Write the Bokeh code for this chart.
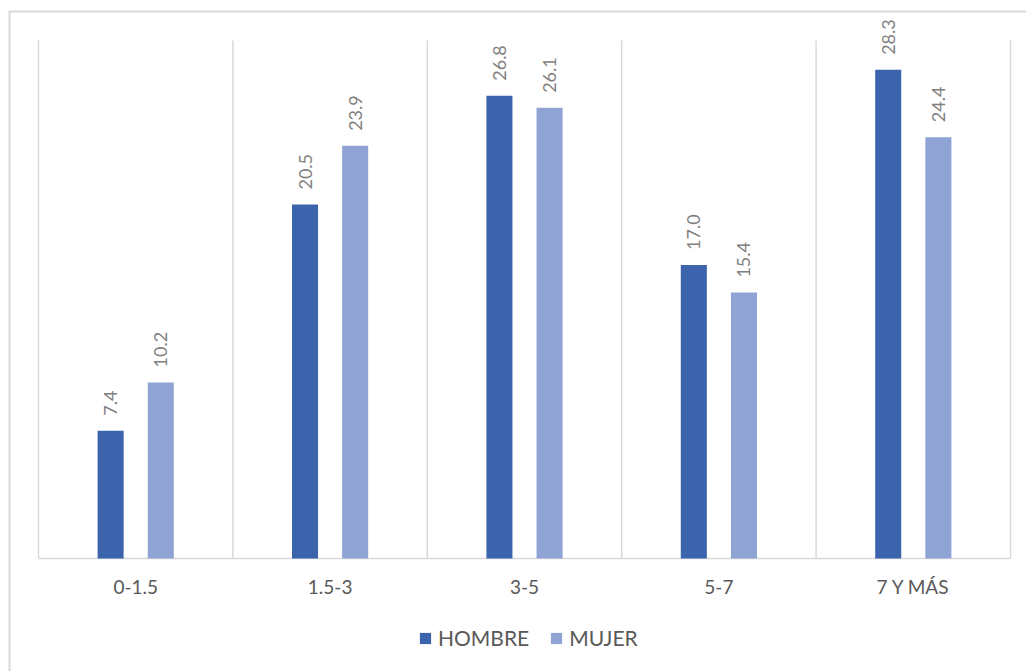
from bokeh.plotting import figure
from bokeh.models import Legend, LegendItem, ColumnDataSource, Range1d
from bokeh.core.properties import value
from bokeh.embed import file_html
from bokeh.resources import INLINE
import math

categories = ["0-1.5", "1.5-3", "3-5", "5-7", "7 Y MÁS"]
hombre = [7.4, 20.5, 26.8, 17.0, 28.3]
mujer = [10.2, 23.9, 26.1, 15.4, 24.4]
series_names = ["HOMBRE", "MUJER"]
colors = ["#3B64AD", "#8FA4D4"]

FONT = "Lato"
W, H = 1026, 671
n = len(categories)
YMAX = 30
# pixel layout of the plotting area (left, right, top, bottom)
PL, PR, PT, PB = 38, 1010, 40, 558
sx = (PR - PL) / n
sy = (PB - PT) / YMAX

def px_to_x(px):
    return (px - PL) / sx

def py_to_y(py):
    return (PB - py) / sy

centers = [i + 0.5 for i in range(n)]
off = 0.129
bw = 0.134

p = figure(width=W, height=H, output_backend="svg", toolbar_location=None,
           x_range=Range1d(px_to_x(0), px_to_x(W)),
           y_range=Range1d(py_to_y(H), py_to_y(0)),
           min_border=0, outline_line_color=None)
p.axis.visible = False
p.grid.visible = False

# chart border (left & top edges visible in the window)
p.line(x=[px_to_x(9), px_to_x(9), px_to_x(W + 5)],
       y=[py_to_y(H + 5), py_to_y(11), py_to_y(11)],
       line_color="#d9d9d9", line_width=2)

# vertical category separators
p.segment(x0=list(range(n + 1)), x1=list(range(n + 1)), y0=0, y1=YMAX,
          line_color="#d9d9d9", line_width=1.5)
# baseline
p.segment(x0=[0], x1=[n], y0=[0], y1=[0], line_color="#d9d9d9", line_width=1.5)

src = ColumnDataSource(dict(
    xh=[c - off for c in centers], xm=[c + off for c in centers],
    h=hombre, m=mujer,
    lh=[f"{v:.1f}" for v in hombre], lm=[f"{v:.1f}" for v in mujer]))

rh = p.vbar(x="xh", top="h", width=bw, source=src, fill_color=colors[0], line_color=None)
rm = p.vbar(x="xm", top="m", width=bw, source=src, fill_color=colors[1], line_color=None)

for xcol, ycol, lcol in [("xh", "h", "lh"), ("xm", "m", "lm")]:
    p.text(x=xcol, y=ycol, text=lcol, source=src, angle=math.pi / 2,
           text_align="left", text_baseline="middle", y_offset=-15,
           text_font=value(FONT), text_font_size="18px", text_color="#7f7f7f")

# category labels
p.text(x=centers, y=[py_to_y(586)] * n, text=categories,
       text_align="center", text_baseline="middle",
       text_font=value(FONT), text_font_size="19px", text_color="#595959")

legend = Legend(items=[LegendItem(label=series_names[0], renderers=[rh]),
                       LegendItem(label=series_names[1], renderers=[rm])],
                orientation="horizontal", location=(418, 21),
                label_text_font=FONT, label_text_font_size="21px",
                label_text_color="#595959", glyph_width=14, glyph_height=14,
                spacing=20, border_line_color=None, background_fill_alpha=0,
                margin=0, padding=2, label_standoff=6)
p.add_layout(legend, "center")

open("out.html", "w").write(file_html(p, INLINE))
